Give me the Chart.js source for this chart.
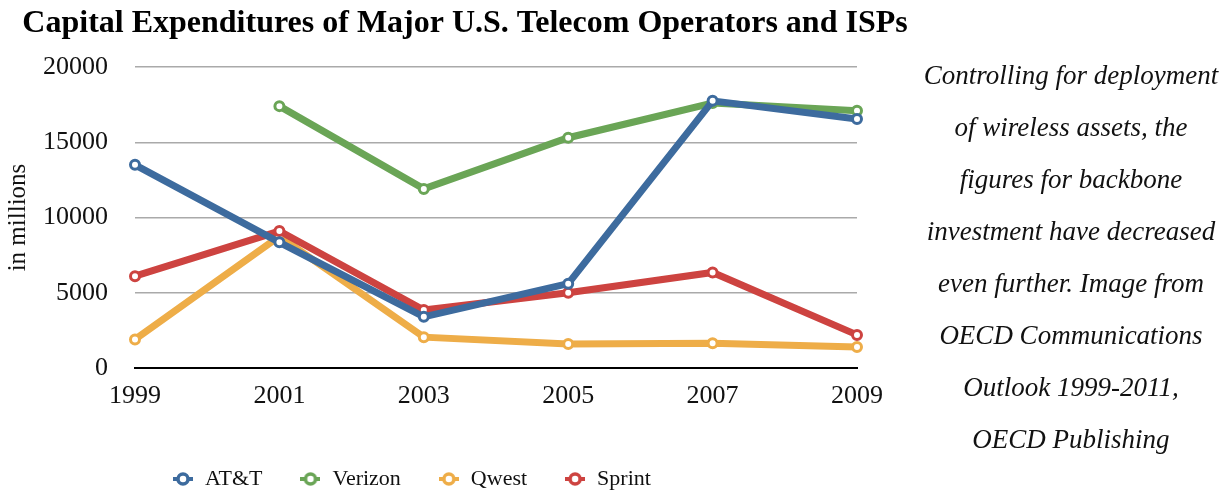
<!DOCTYPE html>
<html>
<head>
<meta charset="utf-8">
<script src="https://cdn.jsdelivr.net/npm/chart.js@4/dist/chart.umd.min.js"></script>
<style>
  html, body { margin: 0; padding: 0; background: #fff; overflow: hidden; }
  #wrap { position: relative; width: 1230px; height: 494px; overflow: hidden; }
  #box { position: absolute; left: 0; top: 0; width: 930px; height: 500px; }
  #note {
    position: absolute; left: 913px; top: 49px; width: 316px;
    text-align: center; font-family: "Liberation Serif", serif; font-style: italic;
    font-size: 27px; line-height: 52px; color: #111;
  }
</style>
</head>
<body>
<div id="wrap">
  <div id="box"><canvas id="capexChart"></canvas></div>
  <div id="note">Controlling for deployment<br>of wireless assets, the<br>figures for backbone<br>investment have decreased<br>even further. Image from<br>OECD Communications<br>Outlook 1999-2011,<br>OECD Publishing</div>
</div>
<script>
// years on the x axis, values in millions USD
const years = ['1999', '2001', '2003', '2005', '2007', '2009'];
const att = [13500, 8350, 3400, 5600, 17750, 16550];
const verizon = [null, 17400, 11900, 15300, 17600, 17100];
const qwest = [1900, 8750, 2050, 1600, 1650, 1400];
const sprint = [6100, 9100, 3850, 5000, 6350, 2200];

const names = ['AT&T', 'Verizon', 'Qwest', 'Sprint'];
const colors = ['#3d6b9e', '#6aa556', '#eead48', '#cd4340'];
const drawOrder = [0, 1, 3, 2];   // blue on top, qwest at the bottom

function legendMarker(color) {
    const c = document.createElement('canvas');
    c.width = 20; c.height = 14;
    const g = c.getContext('2d');
    g.strokeStyle = color;
    g.lineWidth = 4;
    g.beginPath(); g.moveTo(0, 7); g.lineTo(20, 7); g.stroke();
    g.beginPath(); g.arc(10, 7, 5, 0, Math.PI * 2);
    g.fillStyle = '#fff'; g.fill();
    g.lineWidth = 3.5; g.stroke();
    return c;
}
const markers = colors.map(legendMarker);

const serif = '"Liberation Serif", serif';
const series = [att, verizon, qwest, sprint];

const ctx = document.getElementById('capexChart').getContext('2d');
new Chart(ctx, {
    type: 'line',
    data: {
        labels: years,
        datasets: series.map((vals, i) => ({
            label: names[i],
            data: vals,
            borderColor: colors[i],
            backgroundColor: colors[i],
            borderWidth: 7,
            tension: 0,
            pointRadius: 4.5,
            pointBorderWidth: 3,
            pointBackgroundColor: '#fff',
            pointBorderColor: colors[i],
            order: drawOrder[i]
        }))
    },
    options: {
        responsive: true,
        maintainAspectRatio: false,
        animation: false,
        layout: { padding: { left: 0, right: 0, top: 5, bottom: 0 } },
        plugins: {
            title: {
                display: true,
                text: 'Capital Expenditures of Major U.S. Telecom Operators and ISPs',
                color: '#000',
                font: { family: serif, size: 32, weight: 'bold' },
                padding: { top: 0, bottom: 23.6 }
            },
            legend: {
                position: 'bottom',
                fullSize: false,
                align: 'start',
                labels: {
                    usePointStyle: true,
                    boxHeight: 18,
                    padding: 37,
                    color: '#111',
                    font: { family: serif, size: 22 },
                    sort: (a, b) => a.datasetIndex - b.datasetIndex,
                    generateLabels: function(chart) {
                        const items = Chart.defaults.plugins.legend.labels.generateLabels(chart);
                        return items.map(it => ({ ...it, pointStyle: markers[it.datasetIndex] }));
                    }
                }
            },
            tooltip: { enabled: false }
        },
        scales: {
            x: {
                grid: { display: false },
                border: { display: true, color: '#000', width: 2 },
                ticks: { color: '#111', padding: 5, font: { family: serif, size: 26 } },
                afterFit: function(scale) { scale.height = 63; }
            },
            y: {
                min: 0,
                max: 20000,
                border: { display: false },
                grid: {
                    drawTicks: false,
                    color: c => c.tick.value === 0 ? '#000' : '#aaaaaa',
                    lineWidth: c => c.tick.value === 0 ? 2 : 1.5
                },
                ticks: {
                    stepSize: 5000,
                    padding: 27,
                    color: '#111',
                    font: { family: serif, size: 26 },
                    callback: v => String(v)
                },
                title: {
                    display: true,
                    text: 'in millions',
                    color: '#111',
                    font: { family: serif, size: 25 },
                    padding: { top: 3, bottom: 0 }
                },
                afterFit: function(scale) { scale.width = 135; }
            },
            // empty right-hand axis: keeps the plot ending at the same place as the original
            spacer: {
                type: 'linear',
                position: 'right',
                display: true,
                grid: { display: false },
                border: { display: false },
                ticks: { display: false },
                afterFit: function(scale) { scale.width = 73; }
            }
        }
    }
});
</script>
</body>
</html>
